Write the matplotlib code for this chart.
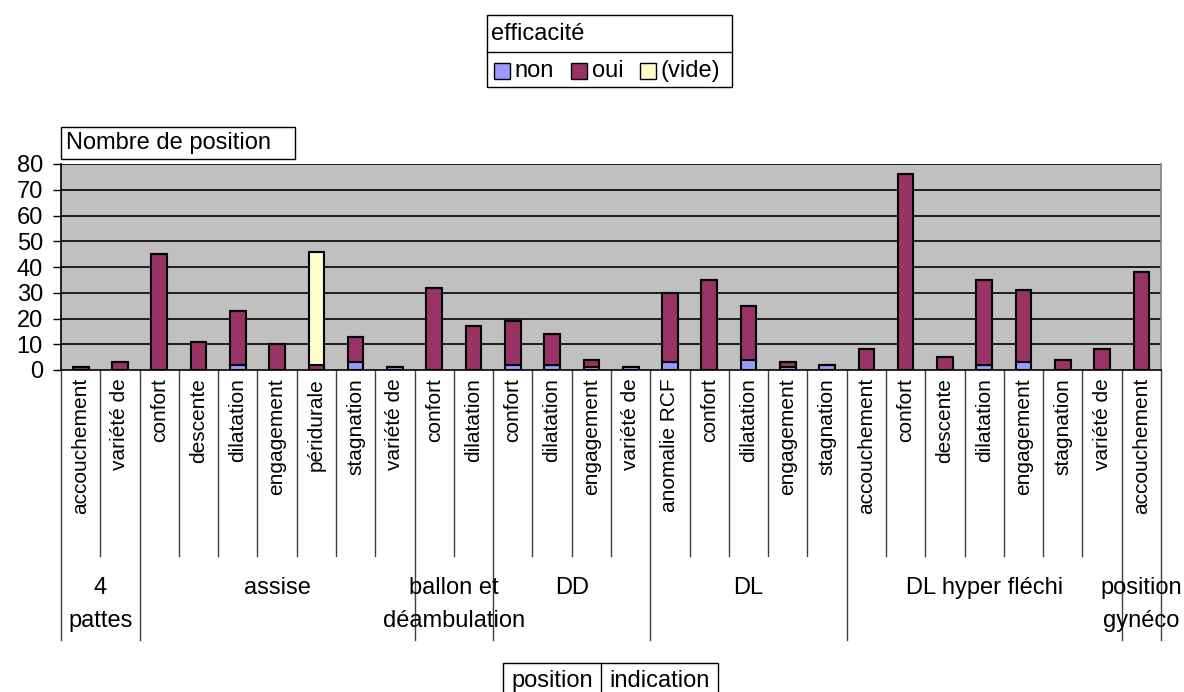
import matplotlib
matplotlib.use("Agg")
import matplotlib.pyplot as plt
from matplotlib.patches import Rectangle
from matplotlib import transforms
import numpy as np

plt.rcParams['font.family'] = ['Liberation Sans', 'DejaVu Sans']

# ---- data ----------------------------------------------------------------
groups = ["4\npattes", "assise", "ballon et\ndéambulation", "DD", "DL",
          "DL hyper fléchi", "position\ngynéco"]
indications = [
    ["accouchement", "variété de"],
    ["confort", "descente", "dilatation", "engagement", "péridurale",
     "stagnation", "variété de"],
    ["confort", "dilatation"],
    ["confort", "dilatation", "engagement", "variété de"],
    ["anomalie RCF", "confort", "dilatation", "engagement", "stagnation"],
    ["accouchement", "confort", "descente", "dilatation", "engagement",
     "stagnation", "variété de"],
    ["accouchement"],
]
non = [0, 0,
       0, 0, 2, 0, 0, 3, 1,
       0, 0,
       2, 2, 1, 1,
       3, 0, 4, 1, 2,
       0, 0, 0, 2, 3, 0, 0,
       0]
oui = [1, 3,
       45, 11, 21, 10, 2, 10, 0,
       32, 17,
       17, 12, 3, 0,
       27, 35, 21, 2, 0,
       8, 76, 5, 33, 28, 4, 8,
       38]
vide = [0, 0,
        0, 0, 0, 0, 44, 0, 0,
        0, 0,
        0, 0, 0, 0,
        0, 0, 0, 0, 0,
        0, 0, 0, 0, 0, 0, 0,
        0]
series_names = ["non", "oui", "(vide)"]
series_colors = ["#9999FF", "#993366", "#FFFFCC"]
y_ticks = [0, 10, 20, 30, 40, 50, 60, 70, 80]

W, H = 1184, 692
FS = 17

fig = plt.figure(figsize=(W / 100, H / 100), dpi=100)

# pixel-space overlay for the pivot-table style boxes
ov = fig.add_axes([0, 0, 1, 1])
ov.set_xlim(0, W)
ov.set_ylim(H, 0)
ov.axis("off")

# plot area
px0, px1, py0, py1 = 61, 1161, 164, 370
ax = fig.add_axes([px0 / W, (H - py1) / H, (px1 - px0) / W, (py1 - py0) / H])
ax.set_facecolor("#C0C0C0")

n = len(oui)
x = np.arange(n)
bottom = np.zeros(n)
for vals, col in zip([non, oui, vide], series_colors):
    v = np.array(vals, dtype=float)
    ax.bar(x, v, width=0.4, bottom=bottom, color=col, edgecolor="black",
           linewidth=1.5, zorder=3)
    bottom += v

ax.set_xlim(-0.5, n - 0.5)
ax.set_ylim(0, 80)
ax.set_yticks(y_ticks)
ax.set_yticklabels([str(t) for t in y_ticks], fontsize=17)
ax.tick_params(axis="y", length=6, width=1, pad=7, direction="out")
ax.set_xticks([])
for yv in y_ticks[1:]:
    ax.axhline(yv, color="black", linewidth=1.2, zorder=1)
ax.spines["left"].set_color("black")
ax.spines["bottom"].set_color("black")
ax.spines["right"].set_color("#808080")
ax.spines["top"].set_visible(False)
for s in ax.spines.values():
    s.set_linewidth(1.2)

# category axis below the plot
trans = transforms.blended_transform_factory(ax.transData, ov.transData)
bounds = [0]
for g in indications:
    bounds.append(bounds[-1] + len(g))

for i in range(n + 1):
    ybot = 640 if i in bounds else 556
    ax.plot([i - 0.5, i - 0.5], [py1, ybot], color="#404040", linewidth=1,
            transform=trans, clip_on=False)

idx = 0
for g, labels in zip(groups, indications):
    for lab in labels:
        ax.text(idx, 378, lab, rotation=90, ha="center", va="top",
                fontsize=15, transform=trans)
        idx += 1

for gi, g in enumerate(groups):
    cx = (bounds[gi] + bounds[gi + 1] - 1) / 2
    for li, line in enumerate(g.split("\n")):
        ax.text(cx, 588 + li * 33, line, ha="center", va="center",
                fontsize=FS, transform=trans)

# legend box (efficacité)
ov.add_patch(Rectangle((487, 15), 245, 72, facecolor="white",
                       edgecolor="black", linewidth=1))
ov.plot([487, 732], [52, 52], color="black", linewidth=1)
ov.text(491, 34, "efficacité", ha="left", va="center", fontsize=FS)
sw_x = [494, 571, 640]
tx_x = [514, 592, 661]
for sx, tx, name, col in zip(sw_x, tx_x, series_names, series_colors):
    ov.add_patch(Rectangle((sx, 63), 16, 16, facecolor=col,
                           edgecolor="black", linewidth=1))
    ov.text(tx, 71, name, ha="left", va="center", fontsize=FS)

# value field box
ov.add_patch(Rectangle((61, 127), 234, 32, facecolor="white",
                       edgecolor="black", linewidth=1))
ov.text(66, 143, "Nombre de position", ha="left", va="center", fontsize=FS)

# row fields box
ov.add_patch(Rectangle((503, 663), 215, 40, facecolor="white",
                       edgecolor="black", linewidth=1, clip_on=False))
ov.plot([601, 601], [663, 692], color="black", linewidth=1)
ov.text(552, 681, "position", ha="center", va="center", fontsize=FS)
ov.text(660, 681, "indication", ha="center", va="center", fontsize=FS)

fig.savefig("out.png", dpi=100)
